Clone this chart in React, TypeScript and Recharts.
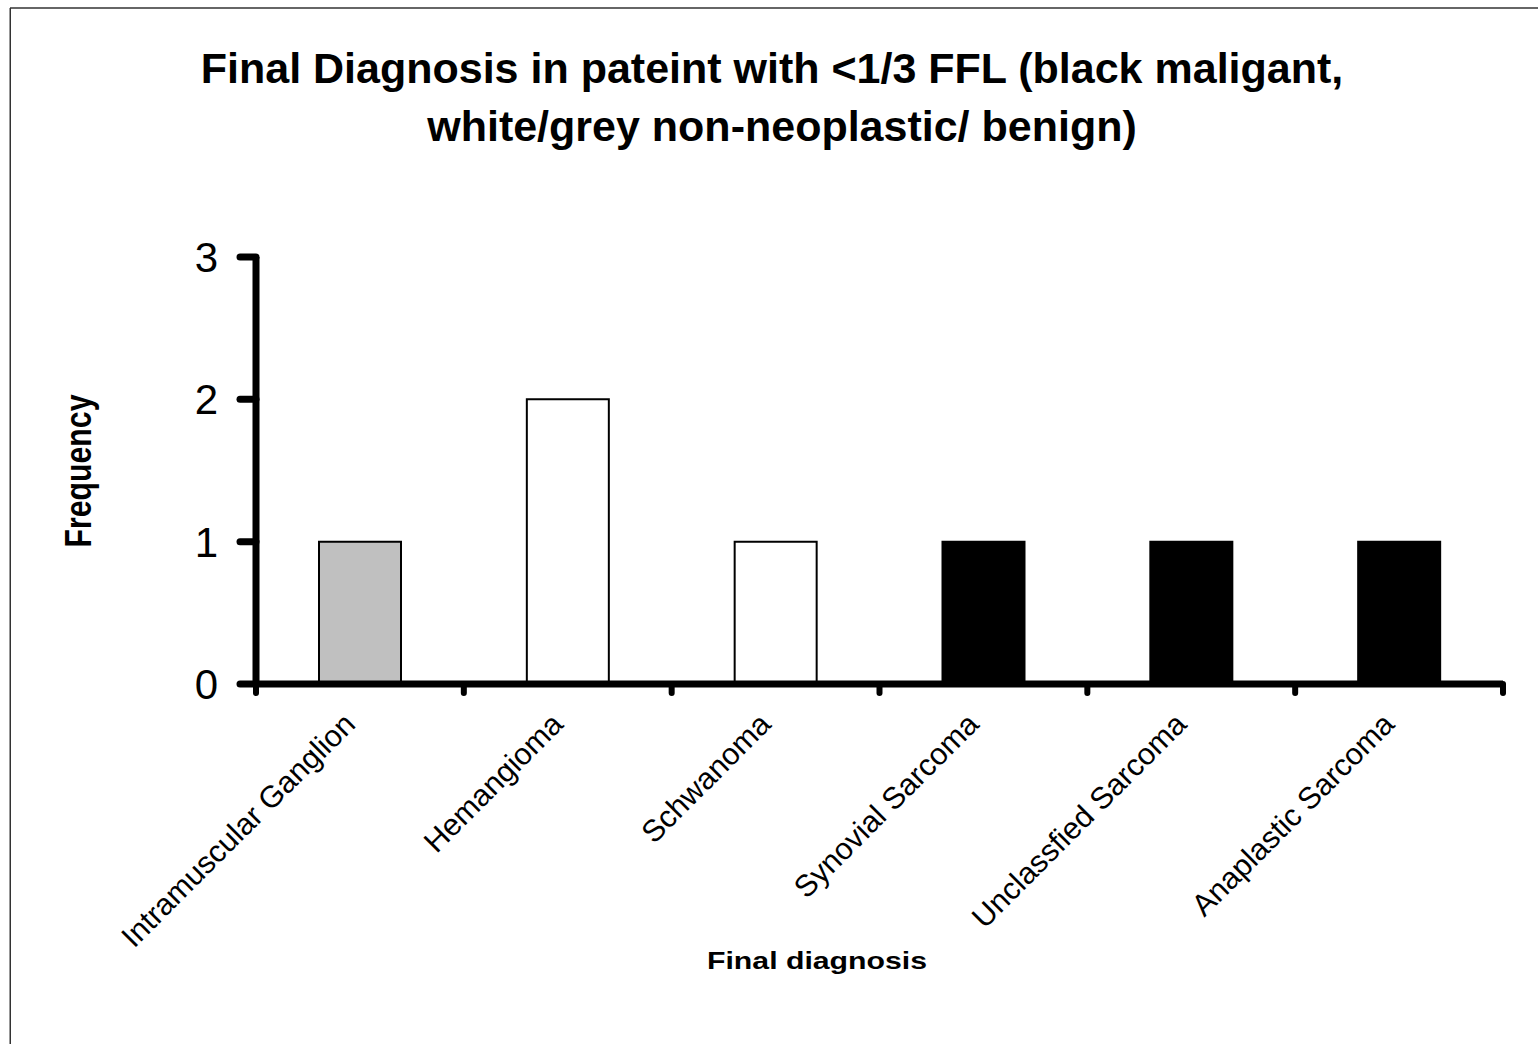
import React from 'react';
import { BarChart, Bar, XAxis, YAxis, Cell } from 'recharts';

const diagnoses = [
  'Intramuscular Ganglion',
  'Hemangioma',
  'Schwanoma',
  'Synovial Sarcoma',
  'Unclassfied Sarcoma',
  'Anaplastic Sarcoma',
];
const frequency = [1, 2, 1, 1, 1, 1];
// grey = non-neoplastic, white = benign, black = malignant
const barFills = ['#c0c0c0', '#ffffff', '#ffffff', '#000000', '#000000', '#000000'];
const yTicks = [0, 1, 2, 3];

const data = diagnoses.map((name, i) => ({ name, value: frequency[i] }));

const FONT = '"Liberation Sans", Arial, sans-serif';

function CategoryTick(props: any) {
  const { x, y, payload, index, visibleTicksCount } = props;
  const half = payload?.offset ?? 0;
  const tx = x - 3;
  const ty = y + 42;
  return (
    <g>
      <line x1={x - half} x2={x - half} y1={y} y2={y + 9} stroke="#000" strokeWidth={6} strokeLinecap="round" />
      {index === visibleTicksCount - 1 && (
        <line x1={x + half} x2={x + half} y1={y} y2={y + 9} stroke="#000" strokeWidth={6} strokeLinecap="round" />
      )}
      <text
        x={tx}
        y={ty}
        textAnchor="end"
        transform={`rotate(-45 ${tx} ${ty})`}
        fontFamily={FONT}
        fontSize={30.5}
        fill="#000"
      >
        {payload.value}
      </text>
    </g>
  );
}

export default function App() {
  return (
    <div style={{ position: 'absolute', left: 0, top: 0, width: 1538, height: 1044, background: '#fff' }}>
      <BarChart
        width={1538}
        height={1044}
        data={data}
        margin={{ top: 257, right: 35, bottom: 300, left: 100 }}
      >
        <XAxis
          dataKey="name"
          height={60}
          interval={0}
          tickLine={false}
          tickSize={0}
          tickMargin={0}
          axisLine={{ stroke: '#000', strokeWidth: 7 }}
          tick={<CategoryTick />}
        />
        <YAxis
          width={156}
          domain={[0, 3]}
          ticks={yTicks}
          interval={0}
          tickSize={16}
          tickMargin={22}
          axisLine={{ stroke: '#000', strokeWidth: 7 }}
          tickLine={{ stroke: '#000', strokeWidth: 7, strokeLinecap: 'round' }}
          tick={{ fill: '#000', fontSize: 42, fontFamily: FONT }}
        />
        <Bar dataKey="value" barSize={82} stroke="#000" strokeWidth={2} isAnimationActive={false}>
          {data.map((_, i) => (
            <Cell key={i} fill={barFills[i]} />
          ))}
        </Bar>
      </BarChart>
      <svg
        width={1538}
        height={1044}
        style={{ position: 'absolute', left: 0, top: 0, pointerEvents: 'none' }}
      >
        <line x1={10.25} y1={8} x2={10.25} y2={1044} stroke="#333" strokeWidth={1.5} />
        <line x1={10} y1={8} x2={1538} y2={8} stroke="#333" strokeWidth={1.5} />
        <text x={772} y={83} textAnchor="middle" fontFamily={FONT} fontWeight="bold" fontSize={43} fill="#000">
          Final Diagnosis in pateint with &lt;1/3 FFL (black maligant,
        </text>
        <text x={782} y={141} textAnchor="middle" fontFamily={FONT} fontWeight="bold" fontSize={43} fill="#000">
          white/grey non-neoplastic/ benign)
        </text>
        <text
          x={91}
          y={471}
          textAnchor="middle"
          transform="rotate(-90 91 471)"
          fontFamily={FONT}
          fontWeight="bold"
          fontSize={37}
          textLength={153}
          lengthAdjust="spacingAndGlyphs"
          fill="#000"
        >
          Frequency
        </text>
        <text
          x={707}
          y={969}
          fontFamily={FONT}
          fontWeight="bold"
          fontSize={24}
          textLength={220}
          lengthAdjust="spacingAndGlyphs"
          fill="#000"
        >
          Final diagnosis
        </text>
      </svg>
    </div>
  );
}
